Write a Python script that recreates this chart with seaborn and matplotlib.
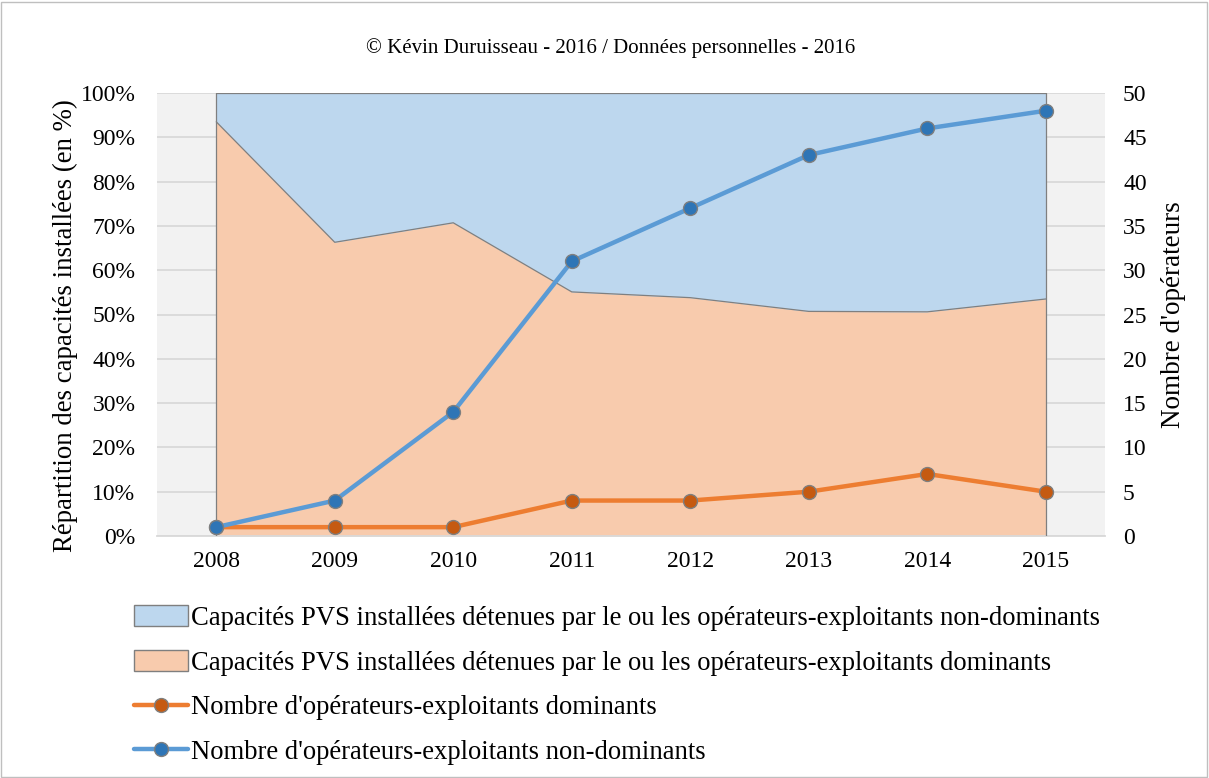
import numpy as np
import pandas as pd
import matplotlib
matplotlib.use("Agg")
import matplotlib.pyplot as plt
from matplotlib.patches import Patch, Rectangle
from matplotlib.lines import Line2D
import seaborn as sns

years = ["2008", "2009", "2010", "2011", "2012", "2013", "2014", "2015"]
share_dominant = [93.5, 66.3, 70.7, 55.1, 53.8, 50.7, 50.6, 53.5]
share_non_dominant = [100 - v for v in share_dominant]
n_dominant = [1, 1, 1, 4, 4, 5, 7, 5]
n_non_dominant = [1, 4, 14, 31, 37, 43, 46, 48]

lbl_area_nd = "Capacités PVS installées détenues par le ou les opérateurs-exploitants non-dominants"
lbl_area_d = "Capacités PVS installées détenues par le ou les opérateurs-exploitants dominants"
lbl_line_d = "Nombre d'opérateurs-exploitants dominants"
lbl_line_nd = "Nombre d'opérateurs-exploitants non-dominants"
title = "© Kévin Duruisseau - 2016 / Données personnelles - 2016"

sns.set_theme(style="white")
plt.rcParams["font.family"] = ["Liberation Serif", "DejaVu Serif"]
plt.rcParams["text.color"] = "black"
plt.rcParams["axes.labelcolor"] = "black"
plt.rcParams["xtick.color"] = "black"
plt.rcParams["ytick.color"] = "black"

c_blue_area = "#BDD7EE"
c_orange_area = "#F8CBAD"
c_orange = "#ED7D31"
c_orange_mk = "#C55A11"
c_blue = "#5B9BD5"
c_blue_mk = "#2E75B6"
c_edge = "#7F7F7F"
c_grid = "#D9D9D9"

fig = plt.figure(figsize=(12.09, 7.78), dpi=100)
ax = fig.add_axes([157 / 1209, 1 - 536 / 778, (1105 - 157) / 1209, (536 - 93) / 778])
ax2 = ax.twinx()

x = np.arange(len(years))
df = pd.DataFrame({"x": x, "year": years, "dom": n_dominant, "nondom": n_non_dominant})

ax.set_facecolor("#F2F2F2")
ax.set_xlim(-0.5, len(years) - 0.5)
ax.set_ylim(0, 100)
ax.set_yticks(np.arange(0, 101, 10))
ax.set_yticklabels([f"{v}%" for v in range(0, 101, 10)])
ax.yaxis.grid(True, color=c_grid, linewidth=1.3)
ax.set_axisbelow(True)

dom = np.array(share_dominant)
top = dom + np.array(share_non_dominant)
ax.fill_between(x, 0, dom, color=c_orange_area, linewidth=0, zorder=2)
ax.fill_between(x, dom, top, color=c_blue_area, linewidth=0, zorder=2)
ax.plot(x, dom, color=c_edge, linewidth=0.9, zorder=3)
ax.plot(x, top, color=c_edge, linewidth=0.9, zorder=3)
ax.plot([x[0], x[0]], [0, top[0]], color=c_edge, linewidth=0.9, zorder=3)
ax.plot([x[-1], x[-1]], [0, top[-1]], color=c_edge, linewidth=0.9, zorder=3)

for s in ["top", "left", "right"]:
    ax.spines[s].set_visible(False)
    ax2.spines[s].set_visible(False)
ax.spines["bottom"].set_color(c_grid)
ax.spines["bottom"].set_linewidth(1.3)
ax2.spines["bottom"].set_visible(False)

ax.set_xticks(x)
ax.set_xticklabels(years)
ax.tick_params(axis="x", labelsize=17, length=0, colors="black", pad=11)
ax.tick_params(axis="y", labelsize=17, length=0, colors="black", pad=15.5)
ax.set_ylabel("Répartition des capacités installées (en %)", fontsize=19.3)
ax.yaxis.set_label_coords(-0.083, 0.474)

sns.lineplot(data=df, x="x", y="dom", ax=ax2, color=c_orange, linewidth=3.2,
             marker="o", markersize=10, markerfacecolor=c_orange_mk,
             markeredgecolor=c_edge, markeredgewidth=1.0, zorder=5)
sns.lineplot(data=df, x="x", y="nondom", ax=ax2, color=c_blue, linewidth=3.2,
             marker="o", markersize=10, markerfacecolor=c_blue_mk,
             markeredgecolor=c_edge, markeredgewidth=1.0, zorder=6)
ax2.set_ylim(0, 50)
ax2.set_yticks(np.arange(0, 51, 5))
ax2.set_xlim(-0.5, len(years) - 0.5)
ax2.tick_params(axis="y", labelsize=17, length=0, colors="black", pad=13)
ax2.set_xlabel("")
ax2.set_ylabel("Nombre d'opérateurs", fontsize=19.5, labelpad=10)
ax2.grid(False)

fig.text(611 / 1209, 1 - 48 / 778, title, ha="center", va="center", fontsize=15)

handles = [
    Patch(facecolor=c_blue_area, edgecolor=c_edge, linewidth=1.0),
    Patch(facecolor=c_orange_area, edgecolor=c_edge, linewidth=1.0),
    Line2D([], [], color=c_orange, linewidth=3.2, marker="o", markersize=10,
           markerfacecolor=c_orange_mk, markeredgecolor=c_edge),
    Line2D([], [], color=c_blue, linewidth=3.2, marker="o", markersize=10,
           markerfacecolor=c_blue_mk, markeredgecolor=c_edge),
]
fig.legend(handles, [lbl_area_nd, lbl_area_d, lbl_line_d, lbl_line_nd],
           loc="upper left", bbox_to_anchor=(121 / 1209, 1 - 592 / 778),
           frameon=False, fontsize=19.2, handlelength=2.0, handleheight=0.8,
           handletextpad=0.12, labelspacing=0.725, borderpad=0)

fig.add_artist(Rectangle((1 / 1209, 1 / 778), 1206 / 1209, 775 / 778,
                         transform=fig.transFigure, fill=False,
                         edgecolor="#BFBFBF", linewidth=1.0))

fig.savefig("out.png", dpi=100)
